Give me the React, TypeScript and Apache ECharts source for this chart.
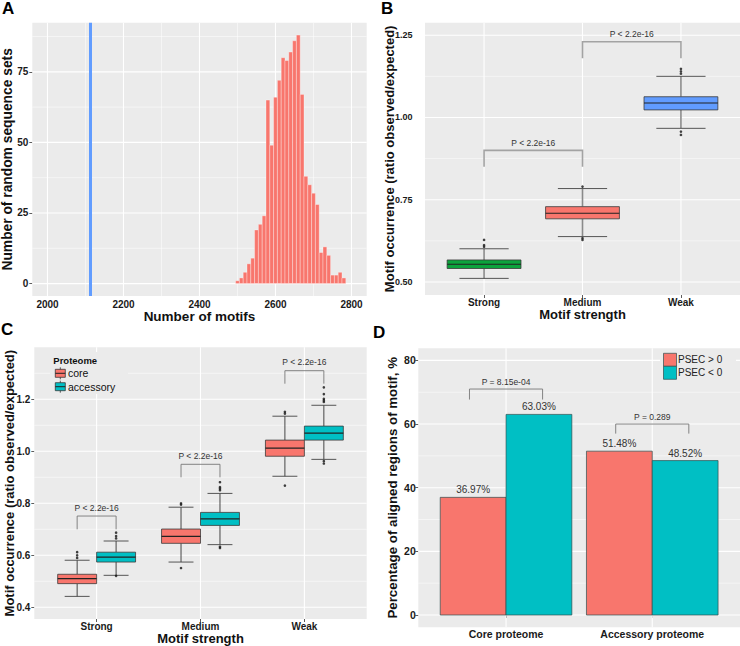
import React, { useEffect, useRef } from 'react';
import * as echarts from 'echarts';

const FONT = '"Liberation Sans", Arial, Helvetica, sans-serif';
const BG = '#EBEBEB';

// ---------- Panel A: histogram ----------
const histBinCenters = [2500, 2510, 2520, 2530, 2540, 2550, 2560, 2570, 2580, 2590, 2600, 2610, 2620, 2630, 2640, 2650, 2660, 2670, 2680, 2690, 2700, 2710, 2720, 2730, 2740, 2750, 2760, 2770, 2780];
const histCounts = [1, 2, 4, 7, 9, 19, 21, 24, 65, 49, 66, 72, 80, 79, 82, 86, 88, 67, 38, 35, 32, 28, 11, 13, 10, 3, 3, 4, 2];
const histBinWidth = 10;
const observedMotifCount = 2113;
const aXTicks = [2000, 2200, 2400, 2600, 2800];
const aXMinor = [2100, 2300, 2500, 2700];
const aYTicks = [0, 25, 50, 75];
const aYMinor = [12.5, 37.5, 62.5, 87.5];

// ---------- Panel B: boxplots by strength ----------
const strengthCategories = ['Strong', 'Medium', 'Weak'];
const bStrong = [0.511, 0.541, 0.554, 0.567, 0.601];
const bMedium = [0.638, 0.692, 0.709, 0.729, 0.784];
const bWeak = [0.967, 1.023, 1.044, 1.063, 1.125];
const bColors = ['#0BA33C', '#F8766D', '#619CFF'];
const bOutliers = [[1, 0.607], [1, 0.612], [1, 0.628], [2, 0.628], [2, 0.633], [2, 0.79], [3, 0.947], [3, 0.957], [3, 1.133], [3, 1.14], [3, 1.148]];
const bYTicks = [0.5, 0.75, 1.0, 1.25];
const bYMinor = [0.625, 0.875, 1.125];
const bBrackets = [[1, 2, 0.85, 0.9], [2, 3, 1.18, 1.23]];
const bBracketLabels = ['P < 2.2e-16', 'P < 2.2e-16'];

// ---------- Panel C: boxplots by strength and proteome ----------
const proteomeGroups = ['core', 'accessory'];
const proteomeColors = ['#F8766D', '#00BFC4'];
const cCoreStats = [
  [0.442, 0.491, 0.51, 0.527, 0.581],
  [0.574, 0.646, 0.673, 0.701, 0.785],
  [0.904, 0.981, 1.012, 1.043, 1.135],
];
const cAccStats = [
  [0.523, 0.574, 0.593, 0.612, 0.655],
  [0.641, 0.715, 0.74, 0.765, 0.838],
  [0.969, 1.043, 1.07, 1.097, 1.177],
];
const cCoreOutliers = [[1, 0.59], [1, 0.6], [1, 0.612], [2, 0.551], [2, 0.795], [2, 0.8], [3, 0.868], [3, 1.145], [3, 1.152]];
const cAccOutliers = [[1, 0.521], [1, 0.665], [1, 0.674], [1, 0.687], [2, 0.628], [2, 0.633], [2, 0.85], [2, 0.856], [2, 0.862], [2, 0.881], [3, 0.953], [3, 0.962], [3, 1.19], [3, 1.196], [3, 1.202], [3, 1.22], [3, 1.246]];
const cYTicks = [0.4, 0.6, 0.8, 1.0, 1.2];
const cYMinor = [0.5, 0.7, 0.9, 1.1, 1.3];
const cBrackets = [[0.8125, 1.1875, 0.7, 0.751], [1.8125, 2.1875, 0.9, 0.95], [2.8125, 3.1875, 1.26, 1.31]];
const cBracketLabels = ['P < 2.2e-16', 'P < 2.2e-16', 'P < 2.2e-16'];

// ---------- Panel D: bars ----------
const dCategories = ['Core proteome', 'Accessory proteome'];
const psecGroups = ['PSEC > 0', 'PSEC < 0'];
const psecPositive = [36.97, 51.48];
const psecNegative = [63.03, 48.52];
const dYTicks = [0, 20, 40, 60, 80];
const dYMinor = [10, 30, 50, 70];
const dBrackets = [[0.75, 1.25, 67.7, 71], [1.75, 2.25, 57, 60]];
const dBracketLabels = ['P = 8.15e-04', 'P = 0.289'];

// axis ranges
const A_X = [1960, 2840];
const A_Y = [-4.4, 92.4];
const B_X = [0.4, 3.6];
const B_Y = [0.4605, 1.288];
const C_X = [0.4, 3.6];
const C_Y = [0.355, 1.4];
const D_X = [0.4, 2.6];
const D_Y = [-3.86, 83.8];

function gridLineSeries(idx: number, xr: number[], yr: number[], majX: number[], minX: number[], majY: number[], minY: number[]) {
  const data: number[][] = [];
  majX.forEach((v) => data.push([v, 0, 1]));
  minX.forEach((v) => data.push([v, 0, 0]));
  majY.forEach((v) => data.push([v, 1, 1]));
  minY.forEach((v) => data.push([v, 1, 0]));
  return {
    type: 'custom',
    xAxisIndex: idx,
    yAxisIndex: idx,
    silent: true,
    z: 1,
    encode: { x: -1, y: -1 },
    data,
    renderItem: (params: any, api: any) => {
      const cs = params.coordSys;
      const v = api.value(0);
      const dir = api.value(1);
      const major = api.value(2) === 1;
      const lw = major ? 1.1 : 0.5;
      if (dir === 0) {
        const px = api.coord([v, yr[0]])[0];
        return { type: 'line', shape: { x1: px, y1: cs.y, x2: px, y2: cs.y + cs.height }, style: { stroke: '#FFFFFF', lineWidth: lw } };
      }
      const py = api.coord([xr[0], v])[1];
      return { type: 'line', shape: { x1: cs.x, y1: py, x2: cs.x + cs.width, y2: py }, style: { stroke: '#FFFFFF', lineWidth: lw } };
    },
  };
}

function boxSeries(idx: number, rows: number[][], colors: string[], halfW: number, capHalf: number, whiskerColor: string, whiskerWidth: number, name?: string) {
  return {
    type: 'custom',
    name,
    xAxisIndex: idx,
    yAxisIndex: idx,
    z: 3,
    silent: true,
    data: rows,
    renderItem: (params: any, api: any) => {
      const x = api.value(0);
      const mn = api.value(1);
      const q1 = api.value(2);
      const md = api.value(3);
      const q3 = api.value(4);
      const mx = api.value(5);
      const tl = api.coord([x - halfW, q3]);
      const br = api.coord([x + halfW, q1]);
      const cx = api.coord([x, md])[0];
      const yMax = api.coord([x, mx])[1];
      const yMin = api.coord([x, mn])[1];
      const yMed = api.coord([x, md])[1];
      const cl = api.coord([x - capHalf, mx])[0];
      const cr = api.coord([x + capHalf, mx])[0];
      const fill = colors[params.dataIndex % colors.length];
      return {
        type: 'group',
        children: [
          { type: 'line', shape: { x1: cx, y1: yMax, x2: cx, y2: tl[1] }, style: { stroke: whiskerColor, lineWidth: whiskerWidth } },
          { type: 'line', shape: { x1: cx, y1: br[1], x2: cx, y2: yMin }, style: { stroke: whiskerColor, lineWidth: whiskerWidth } },
          { type: 'line', shape: { x1: cl, y1: yMax, x2: cr, y2: yMax }, style: { stroke: '#444', lineWidth: 0.9 } },
          { type: 'line', shape: { x1: cl, y1: yMin, x2: cr, y2: yMin }, style: { stroke: '#444', lineWidth: 0.9 } },
          { type: 'rect', shape: { x: tl[0], y: tl[1], width: br[0] - tl[0], height: br[1] - tl[1] }, style: { fill, stroke: '#3a3a3a', lineWidth: 0.8 } },
          { type: 'line', shape: { x1: tl[0], y1: yMed, x2: br[0], y2: yMed }, style: { stroke: '#222', lineWidth: 1.2 } },
        ],
      };
    },
  };
}

function outlierSeries(idx: number, pts: number[][], offset: number) {
  return {
    type: 'scatter',
    xAxisIndex: idx,
    yAxisIndex: idx,
    z: 4,
    silent: true,
    symbolSize: 2.6,
    itemStyle: { color: '#111' },
    data: pts.map((p) => [p[0] + offset, p[1]]),
  };
}

function bracketSeries(idx: number, rows: number[][], labels: string[], color: string, width: number, textGap: number) {
  return {
    type: 'custom',
    xAxisIndex: idx,
    yAxisIndex: idx,
    z: 5,
    silent: true,
    data: rows,
    renderItem: (params: any, api: any) => {
      const a = api.coord([api.value(0), api.value(3)]);
      const b = api.coord([api.value(1), api.value(3)]);
      const legY = api.coord([api.value(0), api.value(2)])[1];
      return {
        type: 'group',
        children: [
          { type: 'polyline', shape: { points: [[a[0], legY], a, b, [b[0], legY]] }, style: { stroke: color, lineWidth: width, fill: 'none' } },
          { type: 'text', style: { x: (a[0] + b[0]) / 2, y: a[1] - textGap, text: labels[params.dataIndex], fontFamily: FONT, fontSize: 8.5, fill: '#333', align: 'center', verticalAlign: 'bottom' } },
        ],
      };
    },
  };
}

const tickLabel = (size: number, margin: number, custom: number[], fmt: (v: number) => string) => ({
  customValues: custom,
  formatter: fmt,
  fontFamily: FONT,
  fontSize: size,
  fontWeight: 'bold',
  color: '#1a1a1a',
  margin,
});

const axisTitle = (size: number) => ({ fontFamily: FONT, fontSize: size, fontWeight: 'bold', color: '#111' });

function valueAxis(idx: number, range: number[], ticks: number[], fmt: (v: number) => string, labelSize: number, margin: number, showTick: boolean, name?: string, nameGap?: number, nameSize?: number) {
  return {
    type: 'value',
    gridIndex: idx,
    min: range[0],
    max: range[1],
    scale: true,
    axisLine: { show: false },
    splitLine: { show: false },
    minorSplitLine: { show: false },
    axisTick: { show: showTick, customValues: ticks, length: 3, lineStyle: { color: '#333', width: 0.8 } },
    axisLabel: tickLabel(labelSize, margin, ticks, fmt),
    name,
    nameLocation: 'middle',
    nameGap,
    nameMoveOverlap: false,
    nameTextStyle: axisTitle(nameSize || 13),
  };
}

export default function App() {
  const ref = useRef<HTMLDivElement>(null);

  useEffect(() => {
    if (!ref.current) return;
    const chart = echarts.init(ref.current, null, { renderer: 'svg' });

    const grids = [
      { left: 32.3, top: 22.7, width: 334.4, height: 273.3 },
      { left: 425, top: 22.7, width: 315, height: 272.3 },
      { left: 34.3, top: 347.3, width: 332.4, height: 271.7 },
      { left: 418.3, top: 348.3, width: 321.7, height: 279 },
    ].map((g) => ({ ...g, show: true, backgroundColor: BG, borderWidth: 0, containLabel: false, outerBoundsMode: 'none' }));

    const catFmt = (cats: string[]) => (v: number) => cats[Math.round(v) - 1] || '';

    const xAxes = [
      valueAxis(0, A_X, aXTicks, (v) => String(v), 10, 3, true, 'Number of motifs', 13.5, 13.5),
      valueAxis(1, B_X, [1, 2, 3], catFmt(strengthCategories), 10, 2, true, 'Motif strength', 13, 13),
      valueAxis(2, C_X, [1, 2, 3], catFmt(strengthCategories), 10, 2, true, 'Motif strength', 12.5, 13),
      valueAxis(3, D_X, [1, 2], catFmt(dCategories), 10.5, 1.5, true),
    ];
    const yAxes = [
      valueAxis(0, A_Y, aYTicks, (v) => String(v), 10, 4, true, 'Number of random sequence sets', 17.5, 13.8),
      valueAxis(1, B_Y, bYTicks, (v) => v.toFixed(2), 9, 12.5, false, 'Motif occurrence (ratio observed/expected)', 29.5, 13),
      valueAxis(2, C_Y, cYTicks, (v) => v.toFixed(1), 10, 4, true, 'Motif occurrence (ratio observed/expected)', 18, 13),
      valueAxis(3, D_Y, dYTicks, (v) => String(v), 10.5, 2.5, true, 'Percentage of aligned regions of motif, %', 19, 13.3),
    ];

    const series: any[] = [
      gridLineSeries(0, A_X, A_Y, aXTicks, aXMinor, aYTicks, aYMinor),
      gridLineSeries(1, B_X, B_Y, [1, 2, 3], [], bYTicks, bYMinor),
      gridLineSeries(2, C_X, C_Y, [1, 2, 3], [], cYTicks, cYMinor),
      gridLineSeries(3, D_X, D_Y, [1, 2], [], dYTicks, dYMinor),
      // histogram
      {
        type: 'custom',
        xAxisIndex: 0,
        yAxisIndex: 0,
        z: 3,
        silent: true,
        data: histBinCenters.map((c, i) => [c, histCounts[i]]),
        renderItem: (params: any, api: any) => {
          const c = api.value(0);
          const n = api.value(1);
          const tl = api.coord([c - histBinWidth / 2, n]);
          const br = api.coord([c + histBinWidth / 2, 0]);
          return { type: 'rect', shape: { x: tl[0], y: tl[1], width: br[0] - tl[0], height: br[1] - tl[1] }, style: { fill: '#F8766D', stroke: 'rgba(255,255,255,0.55)', lineWidth: 0.6 } };
        },
        markLine: {
          silent: true,
          symbol: ['none', 'none'],
          label: { show: false },
          lineStyle: { color: '#619CFF', width: 3, type: 'solid' },
          data: [{ xAxis: observedMotifCount }],
        },
      },
      // B boxes
      boxSeries(1, [[1, ...bStrong], [2, ...bMedium], [3, ...bWeak]], bColors, 0.375, 0.25, '#8a8a8a', 1.6),
      outlierSeries(1, bOutliers, 0),
      bracketSeries(1, bBrackets, bBracketLabels, '#a3a3a3', 1.6, 3),
      // C boxes
      boxSeries(2, cCoreStats.map((s, i) => [i + 1 - 0.1875, ...s]), [proteomeColors[0]], 0.1875, 0.12, '#333', 0.9, proteomeGroups[0]),
      boxSeries(2, cAccStats.map((s, i) => [i + 1 + 0.1875, ...s]), [proteomeColors[1]], 0.1875, 0.12, '#333', 0.9, proteomeGroups[1]),
      outlierSeries(2, cCoreOutliers, -0.1875),
      outlierSeries(2, cAccOutliers, 0.1875),
      bracketSeries(2, cBrackets, cBracketLabels, '#777', 0.9, 4),
      // D bars
      {
        type: 'custom',
        xAxisIndex: 3,
        yAxisIndex: 3,
        z: 3,
        silent: true,
        data: [
          ...psecPositive.map((v, i) => [i + 1 - 0.225, v, 0]),
          ...psecNegative.map((v, i) => [i + 1 + 0.225, v, 1]),
        ],
        renderItem: (params: any, api: any) => {
          const x = api.value(0);
          const v = api.value(1);
          const g = api.value(2);
          const tl = api.coord([x - 0.225, v]);
          const br = api.coord([x + 0.225, 0]);
          return {
            type: 'group',
            children: [
              { type: 'rect', shape: { x: tl[0], y: tl[1], width: br[0] - tl[0], height: br[1] - tl[1] }, style: { fill: proteomeColors[g], stroke: '#2f4f4f', lineWidth: 0.7 } },
              { type: 'text', style: { x: (tl[0] + br[0]) / 2, y: tl[1] - 2.5, text: v.toFixed(2) + '%', fontFamily: FONT, fontSize: 10, fill: '#333', align: 'center', verticalAlign: 'bottom' } },
            ],
          };
        },
      },
      bracketSeries(3, dBrackets, dBracketLabels, '#777', 0.9, 2.5),
    ];

    const panelLetter = (t: string, x: number, y: number) => ({ type: 'text', left: x, top: y, z: 20, style: { text: t, fontFamily: FONT, fontSize: 17, fontWeight: 'bold', fill: '#000' } });

    const cLegendKey = (i: number) => {
      const cy = 373.3 + i * 13.4;
      return {
        type: 'group',
        z: 21,
        children: [
          { type: 'line', z: 21, shape: { x1: 60.3, y1: cy - 6, x2: 60.3, y2: cy + 6 }, style: { stroke: '#333', lineWidth: 0.8 } },
          { type: 'rect', z: 22, shape: { x: 55.3, y: cy - 4, width: 10, height: 8 }, style: { fill: proteomeColors[i], stroke: '#3a3a3a', lineWidth: 0.8 } },
          { type: 'line', z: 23, shape: { x1: 55.3, y1: cy, x2: 65.3, y2: cy }, style: { stroke: '#222', lineWidth: 1 } },
          { type: 'text', z: 23, style: { x: 68, y: cy, text: proteomeGroups[i], fontFamily: FONT, fontSize: 10.5, fill: '#111', verticalAlign: 'middle' } },
        ],
      };
    };
    const dLegendKey = (i: number) => {
      const y0 = 353.3 + i * 13;
      return {
        type: 'group',
        z: 21,
        children: [
          { type: 'rect', z: 22, shape: { x: 663.5, y: y0, width: 13, height: 13 }, style: { fill: proteomeColors[i], stroke: '#2f4f4f', lineWidth: 0.7 } },
          { type: 'text', z: 23, style: { x: 678, y: y0 + 6.6, text: psecGroups[i], fontFamily: FONT, fontSize: 10, fill: '#222', verticalAlign: 'middle' } },
        ],
      };
    };

    chart.setOption({
      animation: false,
      backgroundColor: '#FFFFFF',
      textStyle: { fontFamily: FONT },
      grid: grids,
      xAxis: xAxes,
      yAxis: yAxes,
      series,
      graphic: [
        panelLetter('A', 2, 0),
        panelLetter('B', 381, 0),
        panelLetter('C', 1, 321),
        panelLetter('D', 373, 324),
        { type: 'rect', z: 20, shape: { x: 50, y: 352, width: 78, height: 42 }, style: { fill: BG } },
        { type: 'text', z: 21, left: 53.3, top: 355, style: { text: 'Proteome', fontFamily: FONT, fontSize: 9.5, fontWeight: 'bold', fill: '#111' } },
        cLegendKey(0),
        cLegendKey(1),
        { type: 'rect', z: 20, shape: { x: 660, y: 350.5, width: 76, height: 32 }, style: { fill: BG } },
        dLegendKey(0),
        dLegendKey(1),
      ],
    });

    return () => chart.dispose();
  }, []);

  return <div ref={ref} style={{ position: 'fixed', left: 0, top: 0, width: 740, height: 646, background: '#fff' }} />;
}
